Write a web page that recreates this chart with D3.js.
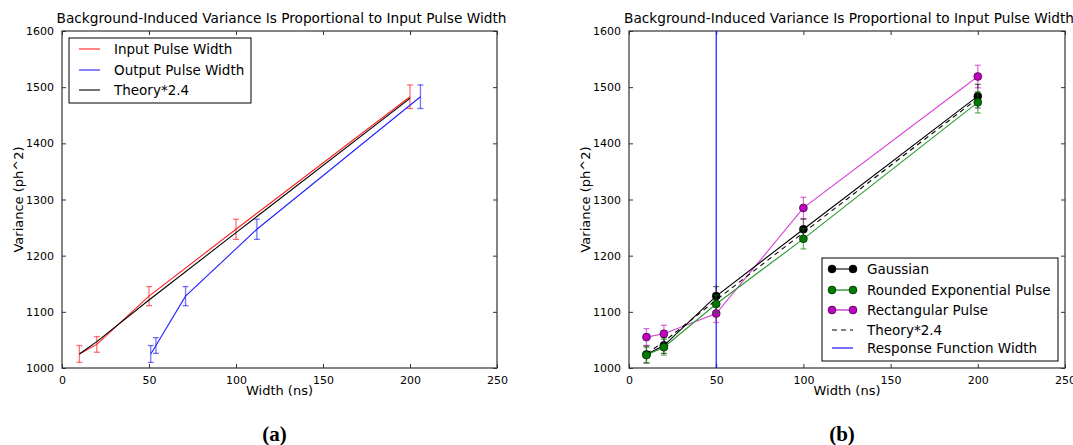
<!DOCTYPE html>
<html>
<head>
<meta charset="utf-8">
<script src="https://cdn.jsdelivr.net/npm/d3@7"></script>
<style>
  body { margin: 0; background: #fff; }
  svg text { font-family: "DejaVu Sans", sans-serif; fill: #000; }
</style>
</head>
<body>
<script>
// data
var widths = [10, 20, 50, 100, 200];
var outputWidths = [51, 54, 71, 112, 206];
var inputVar = [1025, 1042, 1128, 1247, 1483];
var inputErr = [15, 14, 17, 18, 21];
var outputVar = [1025, 1040, 1128, 1247, 1483];
var theoryVar = [1025, 1047, 1121, 1241, 1480];

var gaussVar = [1024, 1040, 1128, 1247, 1484];
var gaussErr = [15, 14, 17, 18, 21];
var roundedVar = [1023, 1037, 1114, 1230, 1473];
var roundedErr = [14, 14, 16, 18, 19];
var rectVar = [1055, 1061, 1097, 1285, 1519];
var rectErr = [15, 15, 16, 19, 20];
var responseWidth = 50;

var xTicks = [0, 50, 100, 150, 200, 250];
var yTicks = [1000, 1100, 1200, 1300, 1400, 1500, 1600];
var titleText = "Background-Induced Variance Is Proportional to Input Pulse Width";

var width = 1073, height = 445;

var svg = d3.select("body")
  .append("svg")
  .attr("width", width)
  .attr("height", height);

// draws the frame, ticks, labels, returns scales
function makePanel(left, right, caption) {
  var top = 31, bottom = 368;
  var g = svg.append("g");
  var x = d3.scaleLinear().domain([0, 250]).range([left, right]);
  var y = d3.scaleLinear().domain([1000, 1600]).range([bottom, top]);
  var fmt = d3.format("d");

  // ticks inside, all four sides
  g.append("g")
    .attr("transform", "translate(0," + bottom + ")")
    .call(d3.axisBottom(x).tickValues(xTicks).tickFormat(fmt).tickSize(-4).tickPadding(8));
  g.append("g")
    .attr("transform", "translate(0," + top + ")")
    .call(d3.axisTop(x).tickValues(xTicks).tickSize(-4).tickFormat(""));
  g.append("g")
    .attr("transform", "translate(" + left + ",0)")
    .call(d3.axisLeft(y).tickValues(yTicks).tickFormat(fmt).tickSize(-4).tickPadding(8));
  g.append("g")
    .attr("transform", "translate(" + right + ",0)")
    .call(d3.axisRight(y).tickValues(yTicks).tickSize(-4).tickFormat(""));

  g.selectAll(".domain").remove();
  g.selectAll(".tick line").attr("stroke", "#333");
  g.selectAll(".tick text").style("font-size", "11px").style("font-family", "DejaVu Sans");

  g.append("rect")
    .attr("x", left).attr("y", top)
    .attr("width", right - left).attr("height", bottom - top)
    .attr("fill", "none").attr("stroke", "#333").attr("stroke-width", 1.2);

  g.append("text")
    .attr("x", (left + right) / 2 + 2).attr("y", 23)
    .attr("text-anchor", "middle")
    .style("font-size", "13.7px")
    .text(titleText);

  g.append("text")
    .attr("x", (left + right) / 2).attr("y", 395)
    .attr("text-anchor", "middle")
    .style("font-size", "13px")
    .text("Width (ns)");

  g.append("text")
    .attr("transform", "translate(" + (left - 39) + "," + ((top + bottom) / 2) + ") rotate(-90)")
    .attr("text-anchor", "middle")
    .style("font-size", "13px")
    .text("Variance (ph^2)");

  g.append("text")
    .attr("x", (left + right) / 2 - 5).attr("y", 441)
    .attr("text-anchor", "middle")
    .style("font-family", "Liberation Serif")
    .style("font-weight", "bold")
    .style("font-size", "21px")
    .text(caption);

  var clip = "clip" + left;
  svg.append("clipPath").attr("id", clip)
    .append("rect").attr("x", left).attr("y", top)
    .attr("width", right - left).attr("height", bottom - top);
  var plot = svg.append("g").attr("clip-path", "url(#" + clip + ")");

  return { x: x, y: y, g: g, plot: plot };
}

function drawSeries(p, xs, ys, errs, color, opts) {
  opts = opts || {};
  var pts = xs.map(function(v, i) { return [v, ys[i], errs ? errs[i] : 0]; });
  var line = d3.line()
    .x(function(d) { return p.x(d[0]); })
    .y(function(d) { return p.y(d[1]); });

  if (errs) {
    var eb = p.plot.append("g")
      .attr("stroke", opts.errColor || color)
      .attr("stroke-opacity", 0.55)
      .attr("stroke-width", 1.3);
    pts.forEach(function(d) {
      var cx = p.x(d[0]), y0 = p.y(d[1] - d[2]), y1 = p.y(d[1] + d[2]);
      eb.append("line").attr("x1", cx).attr("x2", cx).attr("y1", y0).attr("y2", y1);
      eb.append("line").attr("x1", cx - 3).attr("x2", cx + 3).attr("y1", y0).attr("y2", y0);
      eb.append("line").attr("x1", cx - 3).attr("x2", cx + 3).attr("y1", y1).attr("y2", y1);
    });
  }

  p.plot.append("path")
    .datum(pts)
    .attr("d", line)
    .attr("fill", "none")
    .attr("stroke", opts.lineColor || color)
    .attr("stroke-opacity", opts.lineOpacity || 1)
    .attr("stroke-dasharray", opts.dash || null)
    .attr("stroke-width", 1.1);

  if (opts.markers) {
    p.plot.selectAll(null)
      .data(pts)
      .enter()
      .append("circle")
      .attr("cx", function(d) { return p.x(d[0]); })
      .attr("cy", function(d) { return p.y(d[1]); })
      .attr("r", 4)
      .attr("fill", color)
      .attr("stroke", "#000")
      .attr("stroke-width", 0.5);
  }
}

function drawLegend(g, bx, by, bw, bh, rowY, items) {
  g.append("rect")
    .attr("x", bx).attr("y", by).attr("width", bw).attr("height", bh)
    .attr("fill", "#fff").attr("stroke", "#000").attr("stroke-width", 1);
  items.forEach(function(it, i) {
    var ly = rowY[i];
    g.append("line")
      .attr("x1", bx + 10).attr("x2", bx + 31)
      .attr("y1", ly).attr("y2", ly)
      .attr("stroke", it.color)
      .attr("stroke-opacity", it.lineOpacity || 1)
      .attr("stroke-dasharray", it.dash || null)
      .attr("stroke-width", 1.1);
    if (it.markers) {
      [bx + 10, bx + 31].forEach(function(mx) {
        g.append("circle").attr("cx", mx).attr("cy", ly).attr("r", 4)
          .attr("fill", it.color).attr("stroke", "#000").attr("stroke-width", 0.5);
      });
    }
    g.append("text")
      .attr("x", bx + 45).attr("y", ly + 5)
      .style("font-size", "13.5px")
      .text(it.label);
  });
}

// panel (a)
var pa = makePanel(62, 497, "(a)");
drawSeries(pa, widths, inputVar, inputErr, "#ff2020", { errColor: "#ff0000" });
drawSeries(pa, outputWidths, outputVar, inputErr, "#2020ff", { errColor: "#0000ff" });
drawSeries(pa, widths, theoryVar, null, "#000");
drawLegend(pa.g, 69, 38, 182, 65, [49, 70, 90], [
  { label: "Input Pulse Width", color: "#ff2020" },
  { label: "Output Pulse Width", color: "#2020ff" },
  { label: "Theory*2.4", color: "#000" }
]);

// panel (b)
var pb = makePanel(629, 1065, "(b)");
pb.plot.append("line")
  .attr("x1", pb.x(responseWidth)).attr("x2", pb.x(responseWidth))
  .attr("y1", pb.y(1000)).attr("y2", pb.y(1600))
  .attr("stroke", "#0000ff").attr("stroke-width", 1.1);
drawSeries(pb, widths, rectVar, rectErr, "#bf00bf", { markers: true, lineColor: "#d020d0", lineOpacity: 0.85 });
drawSeries(pb, widths, gaussVar, gaussErr, "#000", { markers: true });
drawSeries(pb, widths, theoryVar, null, "#000", { dash: "5,4" });
drawSeries(pb, widths, roundedVar, roundedErr, "#007a00", { markers: true, lineColor: "#2a9a2a" });
drawLegend(pb.g, 822, 258, 236, 103, [269, 290, 310, 330, 348], [
  { label: "Gaussian", color: "#000", markers: true },
  { label: "Rounded Exponential Pulse", color: "#007a00", markers: true },
  { label: "Rectangular Pulse", color: "#bf00bf", markers: true },
  { label: "Theory*2.4", color: "#000", dash: "5,4" },
  { label: "Response Function Width", color: "#0000ff" }
]);
</script>
</body>
</html>
